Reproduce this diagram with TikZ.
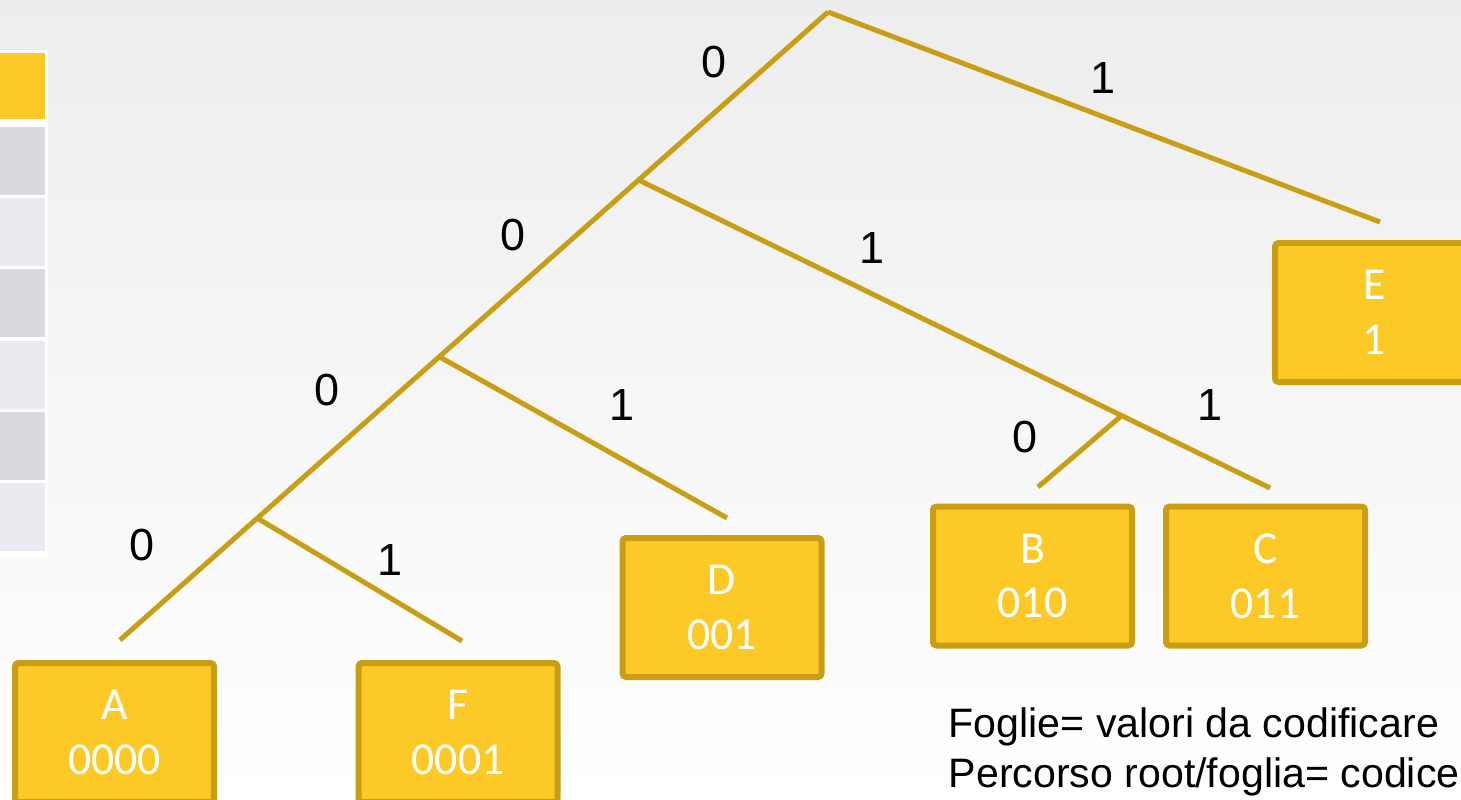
\documentclass[tikz,border=0pt]{standalone}
\usepackage{fontspec}
\setmainfont{Liberation Sans}
\newfontfamily\leaffont{Carlito}
\usetikzlibrary{calc}
\definecolor{gold}{HTML}{FDC926}
\definecolor{goldline}{HTML}{C89E14}
\definecolor{cellA}{HTML}{D9DAE0}
\definecolor{cellB}{HTML}{EAEAF0}

\begin{document}
\begin{tikzpicture}[branch/.style={draw=goldline, line width=0.05cm},
	bit/.style={font=\fontsize{12.8}{15}\selectfont, inner sep=0pt},
	leaf/.style={draw=goldline, fill=gold, line width=0.06cm, rounded corners=1pt, minimum width=1.99cm, minimum height=1.39cm, align=center, text=white, font=\leaffont\fontsize{13}{15.6}\selectfont}]
	\useasboundingbox (0,0) rectangle (14.61,7.99);
	\shade[top color=black!7, bottom color=white] (0,0) rectangle (14.61,7.99);
	\fill[white] (0,2.42) rectangle (0.48,7.49);
	\fill[gold] (0,6.80) rectangle (0.45,7.46);
	\foreach \i/\c in {1/cellA,2/cellB,3/cellA,4/cellB,5/cellA,6/cellB}
		\fill[\c] (0,{6.72-(\i-1)*0.712}) rectangle (0.45,{6.04-(\i-1)*0.712});
	\coordinate (root) at (8.28,7.87);
	\coordinate (endA) at (1.20,1.59);
	\coordinate (n1) at ($(root)!0.2675!(endA)$);
	\coordinate (n2) at ($(root)!0.549!(endA)$);
	\coordinate (n3) at ($(root)!0.806!(endA)$);
	\coordinate (endE) at (13.80,5.77);
	\coordinate (endC) at (12.70,3.11);
	\coordinate (nBC) at ($(n1)!0.765!(endC)$);
	\coordinate (endB) at (10.38,3.12);
	\coordinate (endD) at (7.27,2.81);
	\coordinate (endF) at (4.62,1.58);
	\draw[branch] (root) -- (endA);
	\draw[branch] (root) -- (endE);
	\draw[branch] (n1) -- (endC);
	\draw[branch] (n2) -- (endD);
	\draw[branch] (n3) -- (endF);
	\draw[branch] (nBC) -- (endB);
	\node[bit] (rootL) at (7.14,7.37) {0};
	\node[bit] (rootR) at (11.03,7.21) {1};
	\node[bit] (n1L) at (5.13,5.64) {0};
	\node[bit] (n1R) at (8.72,5.51) {1};
	\node[bit] (n2L) at (3.27,4.09) {0};
	\node[bit] (n2R) at (6.22,3.94) {1};
	\node[bit] (n3L) at (1.42,2.54) {0};
	\node[bit] (n3R) at (3.90,2.39) {1};
	\node[bit] (nBCL) at (10.25,3.62) {0};
	\node[bit] (nBCR) at (12.10,3.94) {1};
	\node[leaf] (A) at (1.145,0.665) {A\\0000};
	\node[leaf] (F) at (4.58,0.665) {F\\0001};
	\node[leaf] (D) at (7.22,1.915) {D\\001};
	\node[leaf] (B) at (10.325,2.23) {B\\010};
	\node[leaf] (C) at (12.655,2.23) {C\\011};
	\node[leaf] (E) at (13.745,4.865) {E\\1};
	\node[anchor=north west, align=left, inner sep=0pt, font=\fontsize{11.7}{14.2}\selectfont] (legend) at (9.48,0.92) {Foglie= valori da codificare\\Percorso root/foglia= codice};
\end{tikzpicture}
\end{document}
